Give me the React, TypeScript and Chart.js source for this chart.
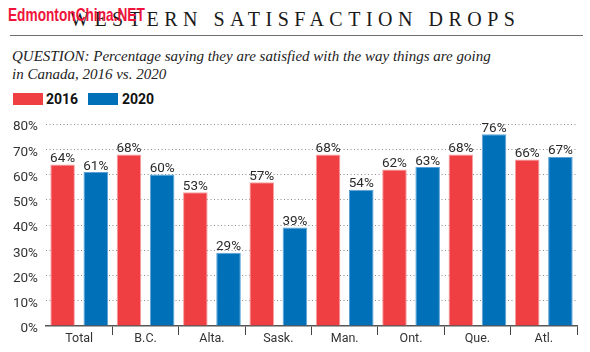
import React, { useEffect, useRef } from "react";
import { Chart, registerables } from "chart.js";

Chart.register(...registerables);

const categories = ["Total", "B.C.", "Alta.", "Sask.", "Man.", "Ont.", "Que.", "Atl."];
const values2016 = [64, 68, 53, 57, 68, 62, 68, 66];
const values2020 = [61, 60, 29, 39, 54, 63, 76, 67];
const seriesLabels = ["2016", "2020"];
const yTicks = [0, 10, 20, 30, 40, 50, 60, 70, 80];

const RED = "#ef3f43";
const BLUE = "#0070b9";
const NUM_FONT = "Roboto, 'Liberation Sans', sans-serif";

const valueLabels = {
  id: "valueLabels",
  afterDatasetsDraw(chart: any) {
    const ctx = chart.ctx;
    ctx.save();
    ctx.font = `13.5px ${NUM_FONT}`;
    ctx.fillStyle = "#2a2a2a";
    ctx.textAlign = "center";
    ctx.textBaseline = "alphabetic";
    chart.data.datasets.forEach((ds: any, di: number) => {
      const meta = chart.getDatasetMeta(di);
      meta.data.forEach((el: any, i: number) => {
        ctx.fillText(`${ds.data[i]}%`, el.x, el.y - 2.5);
      });
    });
    ctx.restore();
  },
};

export default function App() {
  const ref = useRef<HTMLCanvasElement>(null);
  useEffect(() => {
    if (!ref.current) return;
    const chart = new Chart(ref.current, {
      type: "bar",
      data: {
        labels: categories,
        datasets: [
          {
            label: seriesLabels[0],
            data: values2016,
            backgroundColor: RED,
            borderColor: "#f6a0a2",
            borderWidth: 1,
            categoryPercentage: 1.0,
            barPercentage: 0.74,
          },
          {
            label: seriesLabels[1],
            data: values2020,
            backgroundColor: BLUE,
            borderColor: "#5aa3d8",
            borderWidth: 1,
            categoryPercentage: 1.0,
            barPercentage: 0.74,
          },
        ],
      },
      options: {
        animation: false,
        responsive: false,
        maintainAspectRatio: false,
        layout: { padding: { top: 9, right: 13, left: 0, bottom: 0 } },
        plugins: { legend: { display: false }, tooltip: { enabled: false } },
        scales: {
          x: {
            afterFit: (s: any) => {
              s.height = 26;
            },
            grid: {
              drawOnChartArea: false,
              tickLength: 9,
              color: (c: any) =>
                c.index === 0 || c.index === categories.length ? "rgba(0,0,0,0)" : "#444",
              lineWidth: 1,
            },
            border: { display: true, color: "#555", width: 1.5 },
            ticks: {
              font: { family: NUM_FONT, size: 12.5 },
              color: "#333",
              padding: -4,
            },
          },
          y: {
            min: 0,
            max: 80,
            afterFit: (s: any) => {
              s.width = 46;
            },
            afterBuildTicks: (s: any) => {
              s.ticks = yTicks.map((v) => ({ value: v }));
            },
            grid: {
              drawTicks: false,
              color: (c: any) => (c.index === 0 ? "rgba(0,0,0,0)" : "#8c8c8c"),
              lineWidth: 1,
            },
            border: { display: false, dash: [1, 2.5] },
            ticks: {
              font: { family: NUM_FONT, size: 13.5 },
              color: "#333",
              padding: 8,
              labelOffset: 3,
              callback: (v: any) => `${v}%`,
            },
          },
        },
      },
      plugins: [valueLabels],
    });
    return () => chart.destroy();
  }, []);

  const serif = "'Liberation Serif', 'DejaVu Serif', serif";
  return (
    <div
      style={{
        position: "fixed",
        left: 0,
        top: 0,
        width: 590,
        height: 352,
        background: "#fff",
        overflow: "hidden",
      }}
    >
      <div
        style={{
          position: "absolute",
          left: 70,
          top: 9,
          fontFamily: serif,
          fontSize: 20,
          lineHeight: "20px",
          letterSpacing: 5.5,
          color: "#1a1a1a",
          whiteSpace: "nowrap",
        }}
      >
        WESTERN SATISFACTION DROPS
      </div>
      <div
        style={{
          position: "absolute",
          left: 8,
          top: 5,
          fontFamily: "'Liberation Sans', Arial, sans-serif",
          fontWeight: "bold",
          fontSize: 19,
          lineHeight: "19px",
          color: "#f0143c",
          whiteSpace: "nowrap",
          transform: "scaleX(0.72)",
          transformOrigin: "0 0",
        }}
      >
        EdmontonChina.NET
      </div>
      <div
        style={{ position: "absolute", left: 10, top: 35, width: 573, height: 1, background: "#6f6f6f" }}
      />
      <div
        style={{
          position: "absolute",
          left: 12,
          top: 47,
          fontFamily: serif,
          fontStyle: "italic",
          fontSize: 15,
          lineHeight: "18px",
          color: "#222",
          whiteSpace: "nowrap",
        }}
      >
        QUESTION: Percentage saying they are satisfied with the way things are going
        <br />
        in Canada, 2016 vs. 2020
      </div>
      <div style={{ position: "absolute", left: 13, top: 93, width: 30, height: 12, background: RED }} />
      <div
        style={{
          position: "absolute",
          left: 46,
          top: 91,
          fontFamily: NUM_FONT,
          fontWeight: "bold",
          fontSize: 14,
          lineHeight: "16px",
          color: "#111",
        }}
      >
        {seriesLabels[0]}
      </div>
      <div style={{ position: "absolute", left: 88, top: 93, width: 30, height: 12, background: BLUE }} />
      <div
        style={{
          position: "absolute",
          left: 122,
          top: 91,
          fontFamily: NUM_FONT,
          fontWeight: "bold",
          fontSize: 14,
          lineHeight: "16px",
          color: "#111",
        }}
      >
        {seriesLabels[1]}
      </div>
      <canvas
        ref={ref}
        width={590}
        height={244}
        style={{ position: "absolute", left: 0, top: 108, width: 590, height: 244 }}
      />
    </div>
  );
}
